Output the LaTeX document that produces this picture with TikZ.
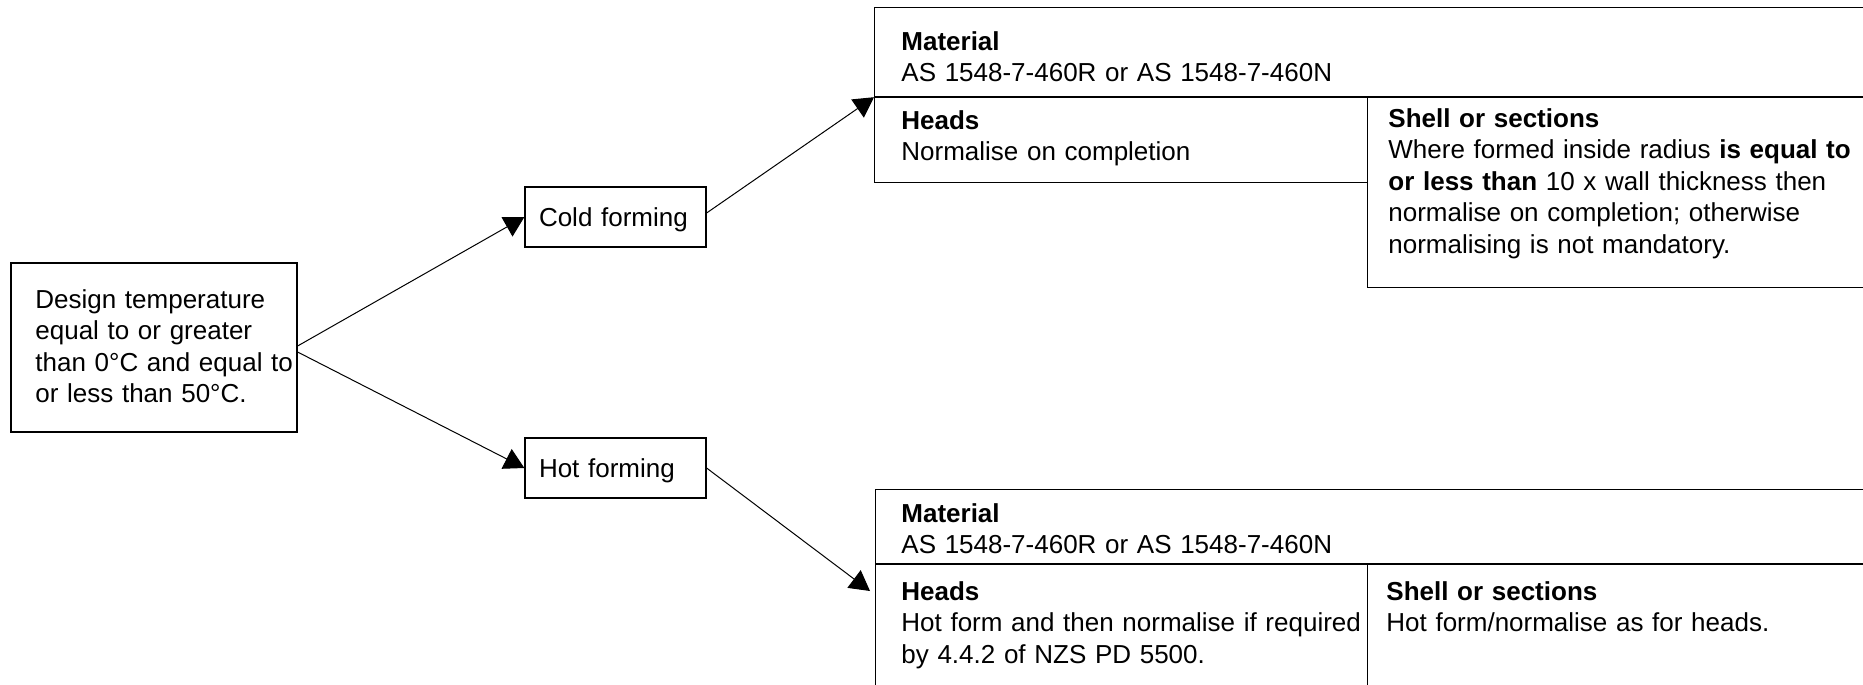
\documentclass[tikz,border=0pt]{standalone}
\usepackage{fontspec}
\setmainfont{Liberation Sans}
\usetikzlibrary{arrows.meta}

\begin{document}
\begin{tikzpicture}[
  x=0.5pt, y=-0.5pt,
  every node/.style={font=\fontsize{13}{15.75}\selectfont},
  box/.style={draw, line width=0.6pt, rectangle},
  formbox/.style={box, minimum width=90.5pt, minimum height=30pt, inner xsep=7pt,
    text width=76.5pt, align=left, text depth=0pt},
  cell/.style={draw, line width=0.6pt, anchor=north west, inner sep=0pt},
  txt/.style={anchor=north west, inner sep=0pt, align=left, text width=240pt},
  arrow/.style={line width=0.5pt, -{Triangle[length=10pt,width=11pt]}}
]
  \useasboundingbox (0,0) rectangle (1863,685);
  \clip (0,0) rectangle (1863,685);

  \node[box, minimum width=143pt, minimum height=84.5pt] (design) at (154,347.5) {};
  \node[txt, text width=145pt] (designtxt) at (35,289) {Design temperature\\ equal to or greater\\ than 0°C and equal to\\ or less than 50°C.};

  \node[formbox] (cold) at (615.5,217) {Cold forming};
  \node[formbox] (hot) at (615.5,468) {Hot forming};

  \node[cell, minimum width=513pt, minimum height=44.5pt] (mat1) at (874,7) {};
  \node[cell, minimum width=246.5pt, minimum height=43pt] (heads1) at (874,96) {};
  \node[cell, minimum width=266.5pt, minimum height=95.5pt] (shell1) at (1367,96) {};
  \draw[line width=1pt] (mat1.south west) -- (mat1.south east);

  \node[txt] (mat1txt) at (901,31) {\textbf{Material}\\ AS 1548-7-460R or AS 1548-7-460N};
  \node[txt] (heads1txt) at (901,110) {\textbf{Heads}\\ Normalise on completion};
  \node[txt] (shell1txt) at (1388,108) {\textbf{Shell or sections}\\
    Where formed inside radius \textbf{is equal to}\\
    \textbf{or less than} 10 x wall thickness then\\
    normalise on completion; otherwise\\
    normalising is not mandatory.};

  \node[cell, minimum width=512.5pt, minimum height=37pt] (mat2) at (875,489) {};
  \node[cell, minimum width=246pt, minimum height=80pt] (heads2) at (875,563) {};
  \node[cell, minimum width=266.5pt, minimum height=80pt] (shell2) at (1367,563) {};
  \draw[line width=0.8pt] (mat2.south west) -- (mat2.south east);

  \node[txt] (mat2txt) at (901,503) {\textbf{Material}\\ AS 1548-7-460R or AS 1548-7-460N};
  \node[txt] (heads2txt) at (901,581) {\textbf{Heads}\\ Hot form and then normalise if required\\ by 4.4.2 of NZS PD 5500.};
  \node[txt] (shell2txt) at (1386,581) {\textbf{Shell or sections}\\ Hot form/normalise as for heads.};

  \coordinate (in2) at (870,591);
  \draw[arrow] ([yshift=0.75pt]design.east) -- (cold.west);
  \draw[arrow] ([yshift=-2.25pt]design.east) -- (hot.west);
  \draw[arrow] ([yshift=2pt]cold.east) -- (mat1.south west);
  \draw[arrow] (hot.east) -- (in2);
\end{tikzpicture}
\end{document}
